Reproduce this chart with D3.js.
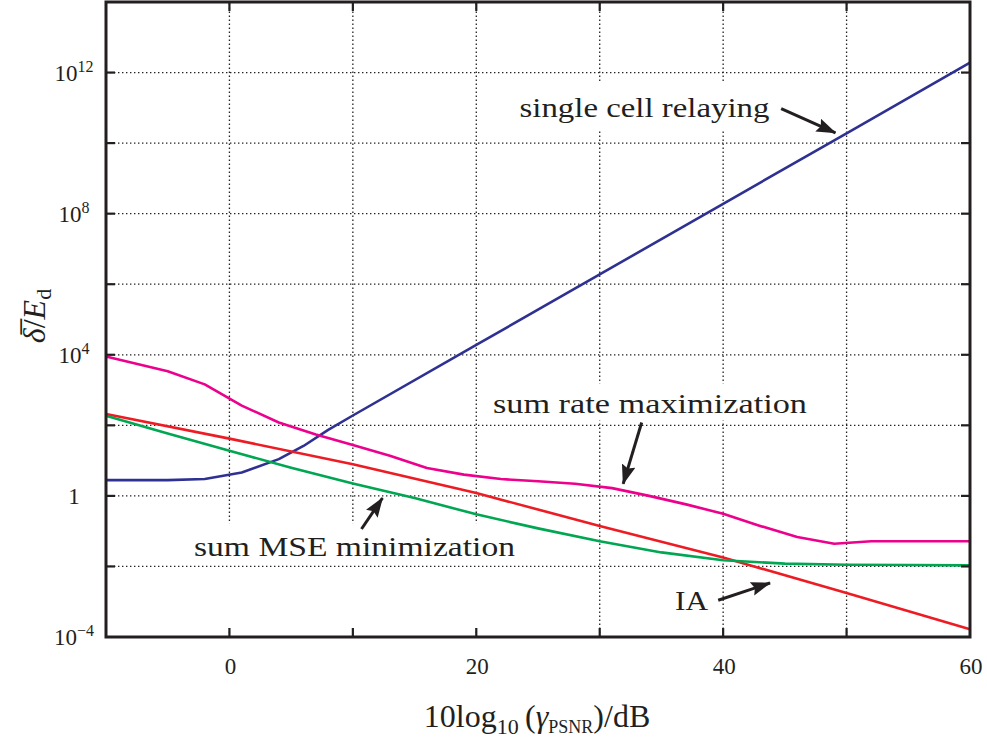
<!DOCTYPE html>
<html>
<head>
<meta charset="utf-8">
<script src="https://cdn.jsdelivr.net/npm/d3@7"></script>
<style>
  body { margin: 0; background: #fff; }
</style>
</head>
<body>
<div id="svg-container"></div>
<script>
////////////////////////////////////////////////////////////////////
////////////////////////////  Data  ////////////////////////////////
// x values in dB, y values delta/E_d
const snrSingle = [-10, -5, -2, 1, 4, 6, 8, 10, 20, 30, 40, 50, 60];
const valSingle = [2.8, 2.8, 3.0, 4.6, 11, 26, 74, 190, 1.9e4, 1.9e6, 1.9e8, 1.9e10, 1.9e12];

const snrRate = [-10, -5, -2, 1, 4, 7, 10, 13, 16, 19, 22, 25, 28, 31, 34, 37, 40, 43, 46, 49, 52, 55, 58, 60];
const valRate = [8900, 3400, 1450, 363, 120, 55, 27.5, 13.8, 6.2, 4.0, 3.0, 2.6, 2.2, 1.66, 1.0, 0.575,
  0.31, 0.141, 0.068, 0.044, 0.052, 0.052, 0.052, 0.052];

const snrMse = [-10, -5, 0, 5, 10, 15, 20, 25, 30, 35, 40, 45, 50, 55, 60];
const valMse = [186, 59, 19, 6.3, 2.24, 0.87, 0.30, 0.12, 0.052, 0.025, 0.015, 0.012, 0.0112, 0.011, 0.0107];

const snrIA = [-10, 0, 10, 20, 30, 40, 50, 60];
const valIA = [209, 42, 7.9, 1.2, 0.141, 0.0178, 0.00178, 0.000166];

const xTicks = [-10, 0, 10, 20, 30, 40, 50, 60];
const xTickLabels = [0, 20, 40, 60];
const yTicks = [1e-4, 1e-2, 1, 1e2, 1e4, 1e6, 1e8, 1e10, 1e12, 1e14];
const yTickLabels = [1e-4, 1, 1e4, 1e8, 1e12];

const series = [
  { name: "single cell relaying", x: snrSingle, y: valSingle, color: "#2e3192" },
  { name: "sum rate maximization", x: snrRate, y: valRate, color: "#ec008c" },
  { name: "IA", x: snrIA, y: valIA, color: "#ed1c24" },
  { name: "sum MSE minimization", x: snrMse, y: valMse, color: "#00a651" },
];

// text labels with arrows (data coordinates)
const notes = [
  { text: "single cell relaying", x: 23.5, y: 5.6e10, len: 250, box: [-35, 13],
    from: [44.7, 9.5e10], to: [49.1, 1.95e10] },
  { text: "sum rate maximization", x: 21.35, y: 230, len: 314, box: [-29, 8],
    from: [33.4, 120], to: [31.9, 2.2] },
  { text: "sum MSE minimization", x: -2.87, y: 0.0195, len: 321, box: [-33, 72],
    from: [10.7, 0.115], to: [12.4, 0.87] },
  { text: "IA", x: 36.1, y: 0.00058, len: 33, box: null,
    from: [39.6, 0.0011], to: [43.8, 0.0034] },
];

////////////////////////////////////////////////////////////////////
////////////////////////////  Init  ////////////////////////////////
const width = 987;
const height = 742;
const margin = { top: 2, right: 17, bottom: 105, left: 106 };
const serif = "'Liberation Serif', 'DejaVu Serif', serif";

const svg = d3.select("#svg-container").append("svg")
  .attr("width", width).attr("height", height)
  .attr("font-family", serif);

const xScale = d3.scaleLinear().domain([-10, 60]).range([margin.left, width - margin.right]);
const yScale = d3.scaleLog().domain([1e-4, 1e14]).range([height - margin.bottom, margin.top]);

const x0 = margin.left, x1 = width - margin.right;
const y0 = height - margin.bottom, y1 = margin.top;

// vertical grid
svg.append("g").selectAll("line")
  .data(xTicks.slice(1, -1))
  .join("line")
  .attr("x1", (d) => xScale(d)).attr("x2", (d) => xScale(d))
  .attr("y1", y0).attr("y2", y1)
  .attr("stroke", "#222").attr("stroke-width", 1.3)
  .attr("stroke-dasharray", "1.4,2.6");

// white boxes behind labels (they hide the vertical grid only)
svg.append("g").selectAll("rect")
  .data(notes.filter((d) => d.box))
  .join("rect")
  .attr("x", (d) => xScale(d.x) - 6)
  .attr("y", (d) => yScale(d.y) + d.box[0])
  .attr("width", (d) => d.len + 12)
  .attr("height", (d) => d.box[1] - d.box[0])
  .attr("fill", "#fff");

// horizontal grid
svg.append("g").selectAll("line")
  .data(yTicks.slice(1, -1))
  .join("line")
  .attr("x1", x0).attr("x2", x1)
  .attr("y1", (d) => yScale(d)).attr("y2", (d) => yScale(d))
  .attr("stroke", "#222").attr("stroke-width", 1.3)
  .attr("stroke-dasharray", "1.4,2.6");

// lines
const line = d3.line()
  .x((d) => xScale(d[0]))
  .y((d) => yScale(d[1]));

svg.append("g").selectAll("path")
  .data(series)
  .join("path")
  .attr("fill", "none")
  .attr("stroke", (d) => d.color)
  .attr("stroke-width", 2.6)
  .attr("stroke-linejoin", "round")
  .attr("d", (d) => line(d.x.map((v, i) => [v, d.y[i]])));

// ticks (inward, all four sides)
const ticks = svg.append("g").attr("stroke", "#231f20").attr("stroke-width", 2.2);
const tl = 9;
xTicks.slice(1, -1).forEach((t) => {
  ticks.append("line").attr("x1", xScale(t)).attr("x2", xScale(t)).attr("y1", y0).attr("y2", y0 - tl);
  ticks.append("line").attr("x1", xScale(t)).attr("x2", xScale(t)).attr("y1", y1).attr("y2", y1 + tl);
});
yTicks.slice(1, -1).forEach((t) => {
  ticks.append("line").attr("x1", x0).attr("x2", x0 + tl).attr("y1", yScale(t)).attr("y2", yScale(t));
  ticks.append("line").attr("x1", x1).attr("x2", x1 - tl).attr("y1", yScale(t)).attr("y2", yScale(t));
});

// frame
svg.append("rect")
  .attr("x", x0).attr("y", y1)
  .attr("width", x1 - x0).attr("height", y0 - y1)
  .attr("fill", "none").attr("stroke", "#231f20").attr("stroke-width", 3);

// x tick labels
svg.append("g").selectAll("text")
  .data(xTickLabels)
  .join("text")
  .attr("x", (d) => xScale(d) + 1)
  .attr("y", y0 + 37)
  .attr("text-anchor", "middle")
  .attr("font-size", 23)
  .attr("fill", "#231f20")
  .text((d) => d);

// y tick labels
const yl = svg.append("g").selectAll("text")
  .data(yTickLabels)
  .join("text")
  .attr("x", 74)
  .attr("y", (d) => yScale(d) + 8)
  .attr("text-anchor", "middle")
  .attr("font-size", 23)
  .attr("fill", "#231f20");
yl.each(function (d) {
  const t = d3.select(this);
  const e = Math.round(Math.log10(d));
  if (e === 0) { t.text("1"); return; }
  t.append("tspan").text("10");
  t.append("tspan").attr("dy", -9).attr("font-size", 16).text(e < 0 ? "\u2212" + (-e) : e);
});

// axis titles
const xt = svg.append("text")
  .attr("x", 537).attr("y", 727)
  .attr("text-anchor", "middle")
  .attr("font-size", 32)
  .attr("fill", "#231f20");
xt.append("tspan").text("10log");
xt.append("tspan").attr("font-size", 22).attr("dy", 7).text("10");
xt.append("tspan").attr("dy", -7).text("\u2009(");
xt.append("tspan").attr("font-style", "italic").text("\u03b3");
xt.append("tspan").attr("font-size", 18).attr("dy", 6).text("PSNR");
xt.append("tspan").attr("dy", -6).text(")/dB");

const ytl = svg.append("text")
  .attr("transform", "translate(45,316) rotate(-90)")
  .attr("text-anchor", "middle")
  .attr("font-size", 32)
  .attr("fill", "#231f20");
ytl.append("tspan").attr("font-style", "italic").text("\u03b4\u0305");
ytl.append("tspan").text("/");
ytl.append("tspan").attr("font-style", "italic").text("E");
ytl.append("tspan").attr("font-size", 22).attr("dy", 6).text("d");

// annotations
svg.append("defs").append("marker")
  .attr("id", "head")
  .attr("markerUnits", "userSpaceOnUse")
  .attr("markerWidth", 20).attr("markerHeight", 16)
  .attr("refX", 19).attr("refY", 7)
  .attr("orient", "auto")
  .append("path")
  .attr("d", "M0,0 L20,7 L0,14 L3,7 Z")
  .attr("fill", "#231f20");

const ann = svg.append("g");
notes.forEach((n) => {
  ann.append("text")
    .attr("x", xScale(n.x)).attr("y", yScale(n.y))
    .attr("font-size", 28)
    .attr("fill", "#231f20")
    .attr("textLength", n.len)
    .attr("lengthAdjust", "spacingAndGlyphs")
    .text(n.text);
  ann.append("line")
    .attr("x1", xScale(n.from[0])).attr("y1", yScale(n.from[1]))
    .attr("x2", xScale(n.to[0])).attr("y2", yScale(n.to[1]))
    .attr("stroke", "#231f20").attr("stroke-width", 3)
    .attr("marker-end", "url(#head)");
});
</script>
</body>
</html>
